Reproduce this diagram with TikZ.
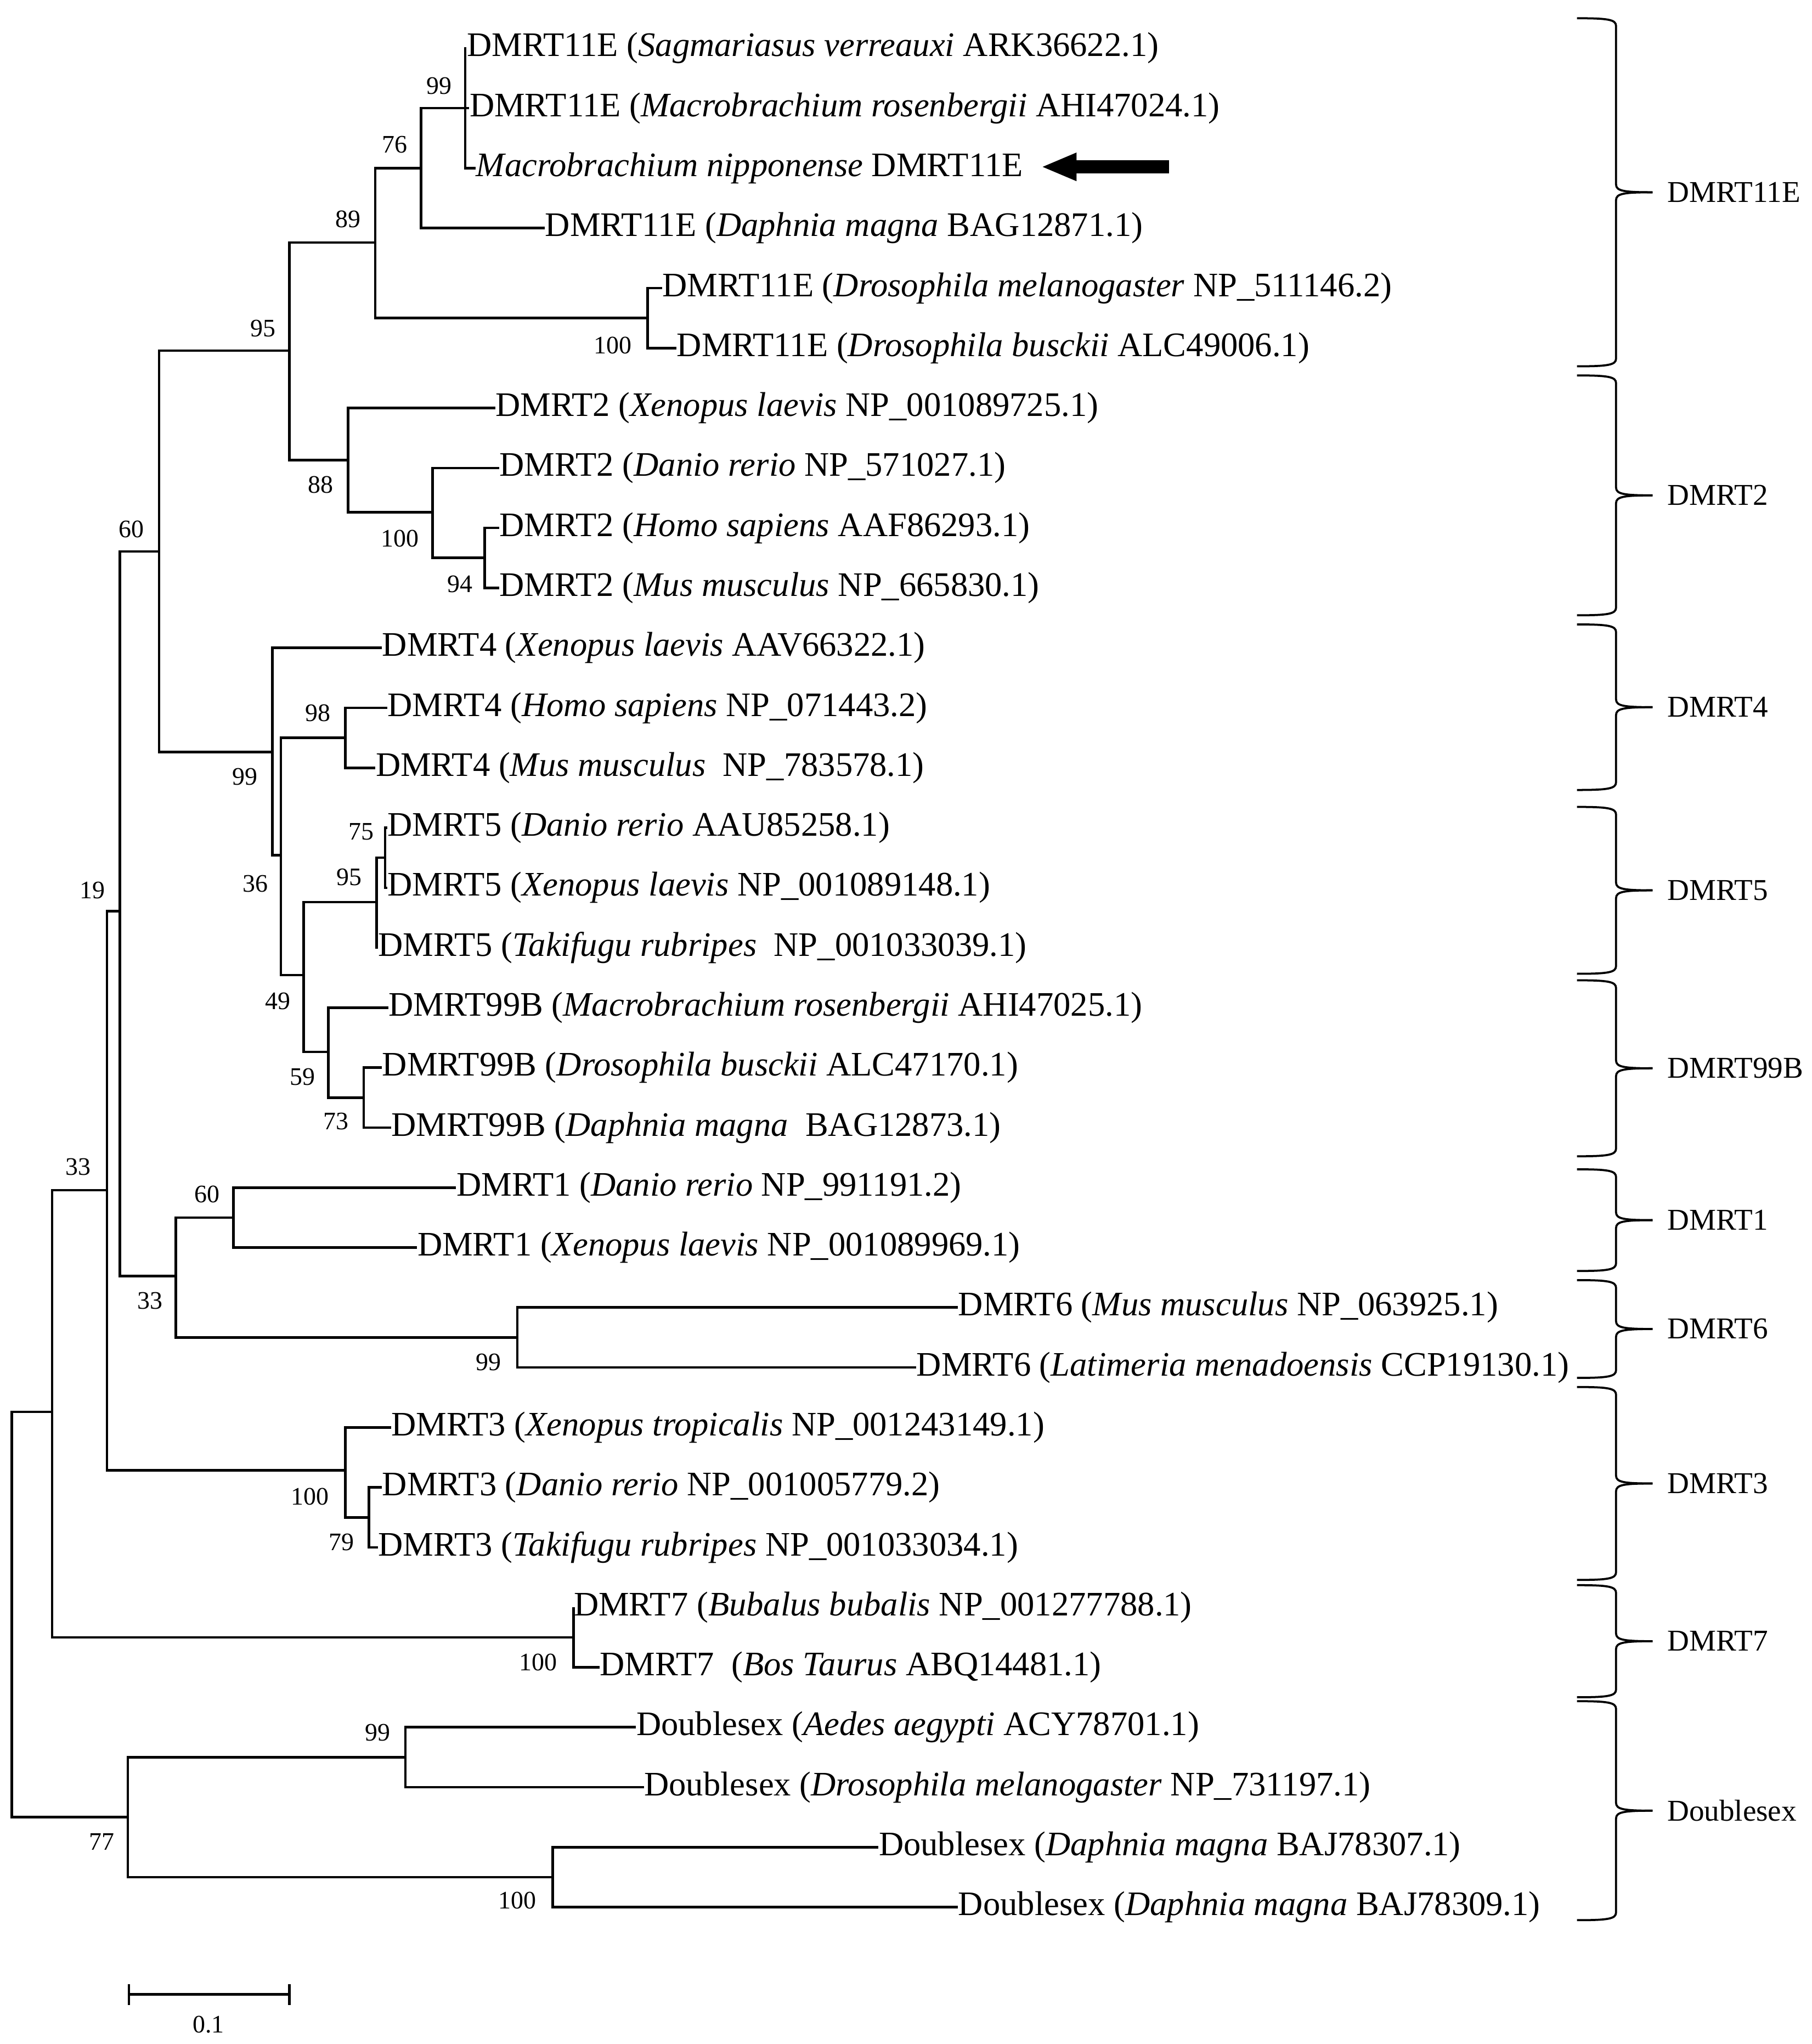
\documentclass[tikz,border=0pt]{standalone}
\usepackage{fontspec}
\setmainfont{Liberation Serif}
\begin{document}
\begin{tikzpicture}[x=0.02cm,y=-0.02cm,
  br/.style={line width=1.1pt},
  leaf/.style={anchor=west,inner sep=0pt,font=\fontsize{15}{18}\selectfont},
  boot/.style={inner sep=0pt,font=\fontsize{11}{13}\selectfont},
  grp/.style={anchor=west,inner sep=0pt,font=\fontsize{13.2}{15}\selectfont},
  brc/.style={line width=0.9pt}]
\useasboundingbox (0,0) rectangle (1390,1568);
% leaves
\node[leaf] (l1) at (358,37) {DMRT11E (\textit{Sagmariasus verreauxi} ARK36622.1)};
\node[leaf] (l2) at (360,83) {DMRT11E (\textit{Macrobrachium rosenbergii} AHI47024.1)};
\node[leaf] (l3) at (365,129) {\textit{Macrobrachium nipponense} DMRT11E};
\node[leaf] (l4) at (418,175) {DMRT11E (\textit{Daphnia magna} BAG12871.1)};
\node[leaf] (l5) at (508,221) {DMRT11E (\textit{Drosophila melanogaster} NP\_511146.2)};
\node[leaf] (l6) at (519,267) {DMRT11E (\textit{Drosophila busckii} ALC49006.1)};
\node[leaf] (l7) at (380,313) {DMRT2 (\textit{Xenopus laevis} NP\_001089725.1)};
\node[leaf] (l8) at (383,359) {DMRT2 (\textit{Danio rerio} NP\_571027.1)};
\node[leaf] (l9) at (383,405) {DMRT2 (\textit{Homo sapiens} AAF86293.1)};
\node[leaf] (l10) at (383,451) {DMRT2 (\textit{Mus musculus} NP\_665830.1)};
\node[leaf] (l11) at (293,497) {DMRT4 (\textit{Xenopus laevis} AAV66322.1)};
\node[leaf] (l12) at (297,543) {DMRT4 (\textit{Homo sapiens} NP\_071443.2)};
\node[leaf] (l13) at (288,589) {DMRT4 (\textit{Mus musculus}\ \ NP\_783578.1)};
\node[leaf] (l14) at (297,635) {DMRT5 (\textit{Danio rerio} AAU85258.1)};
\node[leaf] (l15) at (297,681) {DMRT5 (\textit{Xenopus laevis} NP\_001089148.1)};
\node[leaf] (l16) at (290,727) {DMRT5 (\textit{Takifugu rubripes}\ \ NP\_001033039.1)};
\node[leaf] (l17) at (298,773) {DMRT99B (\textit{Macrobrachium rosenbergii} AHI47025.1)};
\node[leaf] (l18) at (293,819) {DMRT99B (\textit{Drosophila busckii} ALC47170.1)};
\node[leaf] (l19) at (300,865) {DMRT99B (\textit{Daphnia magna}\ \ BAG12873.1)};
\node[leaf] (l20) at (350,911) {DMRT1 (\textit{Danio rerio} NP\_991191.2)};
\node[leaf] (l21) at (320,957) {DMRT1 (\textit{Xenopus laevis} NP\_001089969.1)};
\node[leaf] (l22) at (735,1003) {DMRT6 (\textit{Mus musculus} NP\_063925.1)};
\node[leaf] (l23) at (703,1049) {DMRT6 (\textit{Latimeria menadoensis} CCP19130.1)};
\node[leaf] (l24) at (300,1095) {DMRT3 (\textit{Xenopus tropicalis} NP\_001243149.1)};
\node[leaf] (l25) at (293,1141) {DMRT3 (\textit{Danio rerio} NP\_001005779.2)};
\node[leaf] (l26) at (290,1187) {DMRT3 (\textit{Takifugu rubripes} NP\_001033034.1)};
\node[leaf] (l27) at (440,1233) {DMRT7 (\textit{Bubalus bubalis} NP\_001277788.1)};
\node[leaf] (l28) at (460,1279) {DMRT7\ \ (\textit{Bos Taurus} ABQ14481.1)};
\node[leaf] (l29) at (488,1325) {Doublesex (\textit{Aedes aegypti} ACY78701.1)};
\node[leaf] (l30) at (494,1371) {Doublesex (\textit{Drosophila melanogaster} NP\_731197.1)};
\node[leaf] (l31) at (674,1417) {Doublesex (\textit{Daphnia magna} BAJ78307.1)};
\node[leaf] (l32) at (735,1463) {Doublesex (\textit{Daphnia magna} BAJ78309.1)};
% internal nodes
\coordinate (R) at (9,1238);
\coordinate (A) at (40,1083);
\coordinate (B) at (82,913);
\coordinate (C) at (92,699);
\coordinate (E) at (122,423);
\coordinate (G) at (222,269);
\coordinate (I) at (288,186);
\coordinate (K) at (323,129);
\coordinate (M) at (357,83);
\coordinate (N) at (497,244);
\coordinate (J) at (267,353);
\coordinate (P) at (332,393);
\coordinate (Q) at (372,428);
\coordinate (H) at (209,577);
\coordinate (S) at (215.5,656);
\coordinate (U) at (265,566);
\coordinate (V) at (233,748);
\coordinate (W) at (289,692);
\coordinate (Y) at (295.5,658);
\coordinate (X) at (252,807);
\coordinate (Z) at (279,842);
\coordinate (F) at (135,979);
\coordinate (Fa) at (179,934);
\coordinate (Fb) at (397,1026);
\coordinate (T) at (265,1128);
\coordinate (Tb) at (283,1164);
\coordinate (T7) at (440,1256);
\coordinate (D) at (98,1394);
\coordinate (Da) at (311,1348);
\coordinate (Db) at (424,1440);
\foreach \p/\c in {R/A,R/D,A/B,A/T7,B/C,B/T,C/E,C/F,E/G,E/H,G/I,G/J,I/K,I/N,K/M,J/P,P/Q,
  H/S,S/U,S/V,V/W,V/X,W/Y,X/Z,F/Fa,F/Fb,T/Tb,D/Da,D/Db}
  \draw[br] (\p) |- (\c);
\foreach \p/\c in {M/l1,M/l2,M/l3,K/l4,N/l5,N/l6,J/l7,P/l8,Q/l9,Q/l10,H/l11,U/l12,U/l13,
  Y/l14,Y/l15,W/l16,X/l17,Z/l18,Z/l19,Fa/l20,Fa/l21,Fb/l22,Fb/l23,T/l24,Tb/l25,Tb/l26,
  T7/l27,T7/l28,Da/l29,Da/l30,Db/l31,Db/l32}
  \draw[br] (\p) |- (\c.west);
% bootstrap values
\foreach \n/\x/\y/\v in {bM/337/66/99,bK/303/111/76,bI/267/168/89,bG/202/252/95,bN/470/265/100,
  bJ/246/372/88,bP/307/413/100,bQ/353/448/94,bE/101/406/60,bH/188/596/99,bU/244/547/98,
  bS/196/678/36,bY/277/638/75,bW/268/673/95,bV/213/768/49,bX/232/826/59,bZ/258/860/73,
  bC/71/683/19,bB/60/895/33,bF/115/998/33,bFa/159/916/60,bFb/375/1045/99,bT/238/1148/100,
  bTb/262/1183/79,bT7/413/1275/100,bD/78/1413/77,bDa/290/1329/99,bDb/397/1458/100}
  \node[boot] (\n) at (\x,\y) {\v};
% arrow
\fill (800,128) -- (826,117) -- (826,123) -- (897,123) -- (897,133) -- (826,133) -- (826,139) -- cycle;
% braces
\newcommand\grpbrace[4]{%
  \pgfmathsetmacro\mid{(#1+#2)/2}
  \draw[brc] (1210,#1) .. controls (1234,#1) and (1240,#1+1) .. (1240,#1+6)
    -- (1240,\mid-6) .. controls (1240,\mid-1) and (1246,\mid) .. (1268,\mid);
  \draw[brc] (1210,#2) .. controls (1234,#2) and (1240,#2-1) .. (1240,#2-6)
    -- (1240,\mid+6) .. controls (1240,\mid+1) and (1246,\mid) .. (1268,\mid);
  \node[grp] (#4) at (1279,\mid) {#3};}
\grpbrace{14}{281}{DMRT11E}{g1}
\grpbrace{288}{472}{DMRT2}{g2}
\grpbrace{479}{606}{DMRT4}{g3}
\grpbrace{619}{747}{DMRT5}{g4}
\grpbrace{752}{887}{DMRT99B}{g5}
\grpbrace{897}{975}{DMRT1}{g6}
\grpbrace{982}{1057}{DMRT6}{g7}
\grpbrace{1064}{1212}{DMRT3}{g8}
\grpbrace{1216}{1302}{DMRT7}{g9}
\grpbrace{1305}{1473}{Doublesex}{g10}
% scale bar
\coordinate (s1) at (99,1530);
\coordinate (s2) at (222,1530);
\draw[br] (s1) -- (s2);
\draw[br] (99,1522) -- (99,1538);
\draw[br] (222,1522) -- (222,1538);
\node[boot] (sl) at (160,1553) {0.1};
\end{tikzpicture}
\end{document}
